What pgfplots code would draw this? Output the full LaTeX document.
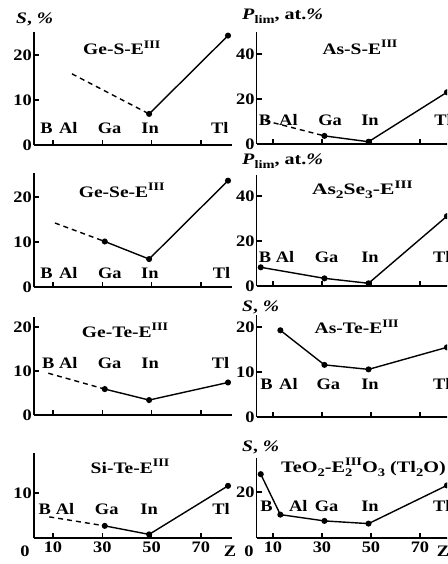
\documentclass[border=0pt]{standalone}
\usepackage{fontspec}
\setmainfont{Liberation Serif}[FakeStretch=1.15]
\usepackage{graphicx}
\usepackage{pgfplots}
\pgfplotsset{compat=1.18}

\newcommand{\fs}{\fontsize{16}{18}\selectfont\bfseries}
\newcommand{\up}[1]{\raisebox{0.42em}{\fontsize{11.5}{12}\selectfont #1}}
\newcommand{\dn}[1]{\raisebox{-0.25em}{\fontsize{11.5}{12}\selectfont #1}}
\newcommand{\wide}[2]{\scalebox{#1}[1]{#2}}
\tikzset{el/.style={font=\fs, inner sep=0pt}}

\pgfplotsset{
  panel/.style={
    scale only axis, width=197.7pt,
    axis x line*=bottom, axis y line*=left,
    tick align=inside, major tick length=5pt,
    xtick={10,30,50,70}, xticklabels={},
    clip=false,
    axis line style={line width=1.4pt, black},
    every tick/.style={line width=1.4pt, black},
    tick label style={font=\fs},
    yticklabel style={inner sep=2pt},
    /pgf/number format/assume math mode=true,
    anchor=south west,
  },
  left panel/.style={panel, xmin=2.3, xmax=82.5},
  right panel/.style={panel, xmin=3.35, xmax=84.05},
  full/.style={line width=1.4pt, black, mark=*, mark size=2.3pt,
    mark options={solid}},
  guess/.style={line width=1.4pt, black, dash pattern=on 5pt off 4pt},
}

\begin{document}
\begin{tikzpicture}
\useasboundingbox (0,0) rectangle (447pt,564pt);
\clip (0,0) rectangle (447pt,564pt);

% ---------- Ge-S-E(III)
\begin{axis}[left panel, at={(34pt,419pt)}, height=113pt,
  ymin=0, ymax=25.1, ytick={0,10,20}]
  \addplot[guess] coordinates {(17.7,15.8) (49,6.9)};
  \addplot[full] coordinates {(49,6.9) (81,24.3)};
  \node[el] at (axis cs:7.4,3.8) {B};
  \node[el] at (axis cs:16.2,3.8) {Al};
  \node[el] at (axis cs:33,3.8) {Ga};
  \node[el] at (axis cs:49.4,3.8) {In};
  \node[el] at (axis cs:77.7,3.8) {Tl};
\end{axis}

% ---------- As-S-E(III)
\begin{axis}[right panel, at={(256.7pt,420pt)}, height=112pt,
  ymin=0, ymax=49.8, ytick={0,20,40}]
  \addplot[guess] coordinates {(6.7,10.4) (31,3.6)};
  \addplot[full] coordinates {(31,3.6) (49,1.0) (81,23)};
  \node[el] at (axis cs:6.7,10.7) {B};
  \node[el] at (axis cs:16.3,10.7) {Al};
  \node[el] at (axis cs:33.3,10.7) {Ga};
  \node[el] at (axis cs:49.6,10.7) {In};
  \node[el] at (axis cs:79.4,10.7) {Tl};
\end{axis}

% ---------- Ge-Se-E(III)
\begin{axis}[left panel, at={(34pt,277pt)}, height=114pt,
  ymin=0, ymax=25.3, ytick={0,10,20}]
  \addplot[guess] coordinates {(10.8,14.2) (31,10.1)};
  \addplot[full] coordinates {(31,10.1) (49,6.2) (81,23.6)};
  \node[el] at (axis cs:7.4,3.1) {B};
  \node[el] at (axis cs:16.2,3.1) {Al};
  \node[el] at (axis cs:33.1,3.1) {Ga};
  \node[el] at (axis cs:49.3,3.1) {In};
  \node[el] at (axis cs:78.4,3.1) {Tl};
\end{axis}

% ---------- As2Se3-E(III)
\begin{axis}[right panel, at={(256.7pt,278pt)}, height=111pt,
  ymin=0, ymax=49.3, ytick={0,20,40}]
  \addplot[full] coordinates {(5,8.3) (31,3.4) (49,1.2) (81,31)};
  \node[el] at (axis cs:6.7,12.9) {B};
  \node[el] at (axis cs:14.9,12.9) {Al};
  \node[el] at (axis cs:31.9,12.9) {Ga};
  \node[el] at (axis cs:49.6,12.9) {In};
  \node[el] at (axis cs:78.9,12.9) {Tl};
\end{axis}

% ---------- Ge-Te-E(III)
\begin{axis}[left panel, at={(34pt,149pt)}, height=98pt,
  ymin=0, ymax=22.3, ytick={0,10,20}]
  \addplot[guess] coordinates {(8.1,9.5) (31,5.9)};
  \addplot[full] coordinates {(31,5.9) (49,3.4) (81,7.4)};
  \node[el] at (axis cs:8.1,11.8) {B};
  \node[el] at (axis cs:16.2,11.8) {Al};
  \node[el] at (axis cs:33,11.8) {Ga};
  \node[el] at (axis cs:49.4,11.8) {In};
  \node[el] at (axis cs:78,11.8) {Tl};
\end{axis}

% ---------- As-Te-E(III)
\begin{axis}[right panel, at={(256.7pt,147pt)}, height=102pt,
  ymin=0, ymax=22.7, ytick={0,10,20}]
  \addplot[full] coordinates {(13,19.3) (31,11.6) (49,10.6) (81,15.5)};
  \node[el] at (axis cs:7.4,7.3) {B};
  \node[el] at (axis cs:16.3,7.3) {Al};
  \node[el] at (axis cs:32.6,7.3) {Ga};
  \node[el] at (axis cs:49.6,7.3) {In};
  \node[el] at (axis cs:78.9,7.3) {Tl};
\end{axis}

% ---------- Si-Te-E(III)
\begin{axis}[left panel, at={(34pt,26pt)}, height=85pt,
  ymin=0, ymax=18.9, ytick={10},
  xticklabels={10,30,50,70}]
  \addplot[guess] coordinates {(8.5,4.7) (31,2.7)};
  \addplot[full] coordinates {(31,2.7) (49,0.8) (81,11.6)};
  \node[el] at (axis cs:6.7,6.4) {B};
  \node[el] at (axis cs:14.9,6.4) {Al};
  \node[el] at (axis cs:31.8,6.4) {Ga};
  \node[el] at (axis cs:49,6.4) {In};
  \node[el] at (axis cs:78.2,6.4) {Tl};
\end{axis}

% ---------- TeO2-E2O3 (Tl2O)
\begin{axis}[right panel, at={(256.7pt,26pt)}, height=80pt,
  ymin=9.8, ymax=27.6, ytick={20},
  xticklabels={10,30,50,70}]
  \addplot[full] coordinates {(5,24) (13,15) (31,13.6) (49,13) (81,21.5)};
  \node[el] at (axis cs:7.4,16.9) {B};
  \node[el] at (axis cs:20.3,16.9) {Al};
  \node[el] at (axis cs:31.9,16.9) {Ga};
  \node[el] at (axis cs:49.6,16.9) {In};
  \node[el] at (axis cs:78.9,16.9) {Tl};
\end{axis}

% ---------- panel titles
\begin{scope}[every node/.style={font=\fs, inner sep=0pt}]
\node[anchor=base] at (121.7pt,509pt) {\wide{1.06}{Ge-S-E\up{III}}};
\node[anchor=base] at (360pt,509.7pt) {\wide{1.06}{As-S-E\up{III}}};
\node[anchor=base] at (121.7pt,366.7pt) {\wide{1.06}{Ge-Se-E\up{III}}};
\node[anchor=base] at (362.3pt,369pt) {\wide{1.17}{As\dn{2}Se\dn{3}-E\up{III}}};
\node[anchor=base] at (125pt,226.7pt) {\wide{1.06}{Ge-Te-E\up{III}}};
\node[anchor=base] at (356.7pt,230pt) {\wide{1.06}{As-Te-E\up{III}}};
\node[anchor=base] at (130pt,90.7pt) {\wide{1.06}{Si-Te-E\up{III}}};
\node[anchor=base] at (363.5pt,91.3pt) {\wide{1.1}{TeO\dn{2}-E\rlap{\dn{2}}\up{III}O\dn{3} (Tl\dn{2}O)}};

% ---------- axis quantities
\node[anchor=base west] at (16pt,540pt) {\wide{1.06}{\textit{S}, \textit{\%}}};
\node[anchor=base west] at (242pt,544pt) {\wide{1.09}{\textit{P}\dn{lim}, at.\textit{\%}}};
\node[anchor=base west] at (242pt,399pt) {\wide{1.09}{\textit{P}\dn{lim}, at.\textit{\%}}};
\node[anchor=base west] at (242pt,252.3pt) {\wide{1.06}{\textit{S}, \textit{\%}}};
\node[anchor=base west] at (242pt,112.3pt) {\wide{1.06}{\textit{S}, \textit{\%}}};

% ---------- atomic number axis ends
\node at (25pt,12.3pt) {0};
\node at (230pt,12.3pt) {Z};
\node at (249pt,12.3pt) {0};
\node at (443pt,12.3pt) {Z};
\end{scope}
\end{tikzpicture}
\end{document}
